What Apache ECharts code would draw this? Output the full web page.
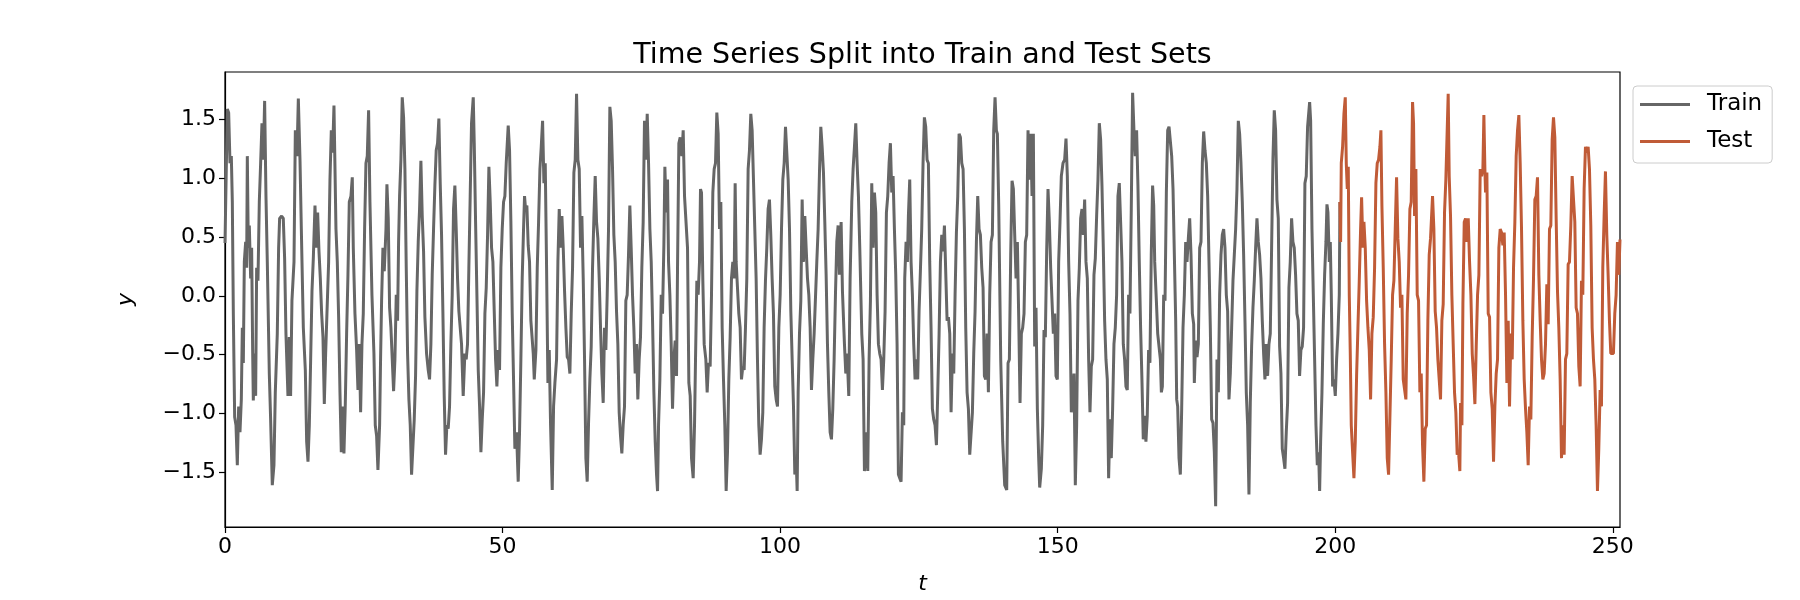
<!DOCTYPE html>
<html>
<head>
<meta charset="utf-8">
<script src="https://cdn.jsdelivr.net/npm/echarts@6/dist/echarts.min.js"></script>
<style>html,body{margin:0;padding:0;background:#fff;}#c{width:1800px;height:600px;}</style>
</head>
<body>
<div id="c"></div>
<script>
// ---- data ----
const trainT = [0.00,0.42,0.66,0.90,1.14,1.32,1.50,1.74,1.98,2.22,2.46,2.70,2.94,3.12,3.30,3.48,3.72,3.90,4.02,4.20,4.38,4.62,4.80,4.98,5.10,5.34,5.52,5.70,5.94,6.18,6.42,6.66,6.90,7.14,7.38,7.62,7.98,8.22,8.52,8.82,9.06,9.42,9.66,9.84,10.20,10.50,10.74,10.98,11.34,11.58,11.82,12.06,12.43,12.67,12.97,13.21,13.51,13.75,14.11,14.47,14.71,14.95,15.19,15.43,15.67,15.91,16.21,16.45,16.69,16.93,17.17,17.41,17.65,17.89,18.13,18.43,18.67,18.91,19.15,19.39,19.63,19.99,20.23,20.47,20.71,20.95,21.19,21.43,21.67,21.91,22.15,22.39,22.69,22.93,23.11,23.41,23.71,23.95,24.19,24.43,24.67,24.91,25.15,25.39,25.63,25.87,26.11,26.47,26.83,27.07,27.31,27.55,
27.85,28.03,28.21,28.45,28.69,29.00,29.17,29.41,29.65,29.89,30.13,30.37,30.61,30.85,31.09,31.27,31.45,31.69,31.93,32.17,32.41,32.65,32.89,33.13,33.37,33.61,33.85,34.09,34.33,34.57,34.81,35.05,35.29,35.53,35.77,36.01,36.31,36.61,36.85,37.09,37.33,37.57,37.81,38.05,38.29,38.53,38.77,39.01,39.25,39.49,39.73,39.97,40.21,40.45,40.69,40.93,41.17,41.41,41.65,41.89,42.13,42.37,42.61,42.91,43.21,43.45,43.69,43.93,44.17,44.41,44.72,44.90,45.14,45.38,45.62,45.86,46.10,46.34,46.58,46.82,47.06,47.30,47.54,47.78,48.02,48.26,48.50,48.74,48.98,49.22,49.46,49.70,49.94,50.18,50.42,50.66,51.02,51.26,51.50,51.74,51.98,52.22,52.52,52.82,53.06,53.30,53.54,53.78,53.96,54.14,54.38,54.62,54.86,55.10,
55.53,55.71,56.01,56.25,56.49,56.73,56.97,57.21,57.45,57.69,57.93,58.17,58.41,58.65,58.95,59.19,59.43,59.73,59.97,60.21,60.45,60.69,60.93,61.17,61.41,61.65,61.89,62.13,62.37,62.61,62.85,63.09,63.33,63.57,63.81,64.05,64.29,64.53,64.77,65.01,65.25,65.49,65.73,65.97,66.21,66.45,66.69,66.93,67.17,67.41,67.65,67.89,68.13,68.37,68.61,68.85,69.09,69.33,69.57,69.81,70.05,70.29,70.53,70.77,71.01,71.25,71.49,71.73,71.97,72.21,72.45,72.69,72.93,73.17,73.41,73.65,73.89,74.13,74.37,74.61,74.85,75.09,75.33,75.57,75.81,76.06,76.30,76.54,76.78,77.02,77.26,77.50,77.74,77.92,78.10,78.34,78.58,78.82,79.06,79.24,79.48,79.72,79.90,80.14,80.38,80.62,80.86,81.10,81.34,81.52,81.76,82.00,82.30,82.54,82.78,
83.32,83.56,83.80,84.04,84.34,84.58,84.76,85.00,85.24,85.48,85.66,85.84,86.08,86.32,86.62,86.86,87.10,87.40,87.64,87.88,88.12,88.36,88.60,88.84,89.08,89.32,89.56,89.80,90.04,90.28,90.52,90.76,91.00,91.24,91.48,91.72,91.90,92.08,92.32,92.56,92.80,93.04,93.28,93.52,93.76,94.00,94.24,94.48,94.72,94.96,95.20,95.44,95.68,95.92,96.16,96.40,96.64,96.88,97.12,97.36,97.60,97.84,98.08,98.32,98.56,98.80,99.04,99.29,99.53,99.77,100.01,100.25,100.49,100.73,100.97,101.21,101.45,101.69,101.93,102.17,102.41,102.65,102.89,103.07,103.25,103.49,103.73,103.97,104.21,104.45,104.69,104.93,105.17,105.41,105.65,105.89,106.13,106.37,106.61,106.85,107.09,107.33,107.57,107.81,108.05,108.29,108.53,108.77,109.01,109.25,109.49,109.73,109.97,110.21,110.45,110.69,
110.99,111.23,111.59,111.83,112.07,112.37,112.61,112.91,113.15,113.39,113.63,113.87,114.11,114.35,114.71,114.95,115.19,115.55,115.79,116.03,116.27,116.51,116.75,116.99,117.23,117.47,117.71,117.95,118.19,118.43,118.67,118.91,119.15,119.39,119.63,119.87,120.11,120.35,120.59,120.83,121.07,121.31,121.55,121.79,122.03,122.27,122.45,122.69,122.93,123.11,123.35,123.59,123.83,124.07,124.31,124.55,124.79,125.03,125.27,125.51,125.75,125.99,126.23,126.47,126.71,126.95,127.19,127.43,127.67,127.91,128.16,128.40,128.64,128.88,129.12,129.36,129.60,129.84,130.08,130.32,130.56,130.80,131.04,131.28,131.52,131.76,132.00,132.24,132.48,132.72,132.96,133.20,133.44,133.68,133.92,134.16,134.40,134.64,134.88,135.12,135.36,135.60,135.84,136.08,136.32,136.56,136.80,137.04,137.28,137.52,137.76,138.00,138.24,138.48,138.72,
138.96,139.14,139.38,139.74,140.10,140.46,140.82,141.06,141.30,141.54,141.78,142.02,142.26,142.50,142.74,142.98,143.22,143.46,143.70,143.94,144.18,144.42,144.66,144.90,145.14,145.38,145.62,145.86,146.10,146.34,146.58,146.76,147.06,147.30,147.54,147.78,148.02,148.26,148.50,148.74,148.98,149.22,149.46,149.70,149.94,150.18,150.42,150.66,150.96,151.26,151.50,151.74,151.98,152.22,152.46,152.70,152.94,153.18,153.42,153.66,153.90,154.14,154.38,154.62,154.86,155.10,155.34,155.58,155.82,156.06,156.30,156.54,156.78,157.02,157.26,157.50,157.74,157.98,158.22,158.46,158.70,158.94,159.18,159.42,159.66,159.90,160.14,160.38,160.62,160.86,161.10,161.34,161.58,161.82,162.06,162.30,162.54,162.78,163.02,163.26,163.50,163.74,163.98,164.22,164.46,164.70,164.94,165.18,165.42,165.66,165.90,166.14,166.38,166.62,166.86,167.10,
167.30,167.48,167.78,168.02,168.26,168.50,168.68,168.86,169.10,169.34,169.58,169.82,170.06,170.30,170.54,170.78,171.02,171.26,171.44,171.62,171.86,172.10,172.34,172.58,172.82,173.06,173.30,173.54,173.78,174.02,174.26,174.50,174.62,174.86,175.10,175.34,175.58,175.82,176.06,176.30,176.54,176.78,177.02,177.26,177.50,177.74,177.98,178.22,178.46,178.70,178.94,179.18,179.42,179.66,179.90,180.14,180.38,180.62,180.86,181.10,181.34,181.58,181.82,182.06,182.30,182.54,182.78,183.02,183.26,183.50,183.74,183.98,184.22,184.46,184.70,184.94,185.18,185.42,185.66,185.90,186.14,186.38,186.62,186.86,187.10,187.34,187.58,187.82,188.06,188.30,188.54,188.78,189.02,189.26,189.50,189.74,189.98,190.22,190.46,190.70,190.94,191.18,191.42,191.66,191.90,192.14,192.38,192.62,192.86,193.10,193.34,193.58,193.82,194.06,194.30,194.54,194.78,195.02,
195.39,195.57,195.81,196.05,196.29,196.53,196.77,197.01,197.19,197.37,197.61,197.85,198.09,198.33,198.51,198.69,198.93,199.11,199.29,199.53,199.77,200.01,200.25,200.49,200.73,200.85];

const trainY = [0.45,1.59,1.56,1.13,1.19,0.80,-0.15,-1.03,-1.10,-1.44,-0.94,-1.16,-0.88,-0.27,-0.57,0.29,0.46,0.24,1.19,0.41,0.60,0.15,0.41,-0.46,-0.89,-0.49,-0.85,0.24,0.13,0.80,1.13,1.47,1.16,1.66,0.85,0.29,-0.66,-1.05,-1.61,-1.44,-0.82,-0.32,0.41,0.66,0.68,0.66,0.32,-0.32,-0.85,-0.35,-0.85,-0.04,0.29,1.41,1.19,1.68,1.16,0.57,-0.27,-0.63,-1.24,-1.41,-1.10,-0.54,0.04,0.32,0.77,0.41,0.71,0.38,0.15,-0.15,-0.35,-0.92,-0.49,-0.49,0.29,0.99,1.41,1.22,1.62,0.57,0.29,-0.18,-0.82,-1.33,-0.94,-1.34,-0.92,-0.32,0.18,0.80,0.85,1.01,0.41,-0.15,-0.46,-0.80,-0.41,-0.99,-0.41,-0.15,0.57,1.13,1.19,1.58,0.80,0.01,-0.49,-1.10,-1.19,-1.48,
-1.10,-0.52,-0.04,0.41,0.21,0.57,0.95,0.66,-0.10,-0.27,-0.54,-0.81,-0.54,0.01,-0.21,0.46,0.85,1.16,1.69,1.52,1.08,0.24,-0.49,-0.88,-1.10,-1.52,-1.52,-1.05,-0.68,0.04,0.46,0.74,1.15,0.68,0.38,-0.18,-0.49,-0.63,-0.71,-0.41,0.18,0.57,0.94,1.24,1.30,1.51,0.96,0.52,-0.13,-0.85,-1.35,-1.10,-1.13,-0.94,-0.41,0.01,0.74,0.94,0.57,0.15,-0.13,-0.27,-0.41,-0.85,-0.49,-0.54,-0.41,0.24,0.85,1.47,1.69,1.30,0.63,0.01,-0.63,-0.94,-1.33,-1.05,-0.82,-0.15,0.07,0.52,1.10,0.80,0.41,0.29,-0.13,-0.54,-0.77,-0.46,-0.63,0.24,0.57,0.80,0.85,1.13,1.45,1.24,0.63,-0.15,-0.71,-1.30,-1.16,-1.58,-1.16,-0.54,0.15,0.57,0.85,0.74,0.77,0.43,0.29,-0.21,
-0.49,-0.71,-0.46,0.24,0.63,1.08,1.27,1.49,0.96,1.13,0.24,-0.74,-0.46,-1.10,-1.65,-0.94,-0.74,-0.54,0.29,0.74,0.41,0.68,0.41,0.04,-0.27,-0.52,-0.54,-0.66,-0.15,0.24,1.05,1.16,1.72,1.16,1.08,0.41,0.68,0.15,-0.54,-1.38,-1.58,-1.08,-0.71,-0.43,0.24,0.66,1.02,0.63,0.49,0.15,-0.27,-0.66,-0.91,-0.27,-0.46,0.01,0.57,1.61,1.49,1.08,0.52,0.29,-0.13,-0.41,-0.99,-1.19,-1.34,-1.10,-0.94,-0.04,0.01,0.35,0.77,0.41,0.01,-0.27,-0.66,-0.41,-0.88,-0.54,-0.35,0.24,0.63,1.49,1.16,1.55,1.13,0.57,0.29,-0.21,-0.82,-1.24,-1.52,-1.66,-1.10,-0.71,0.01,-0.15,0.43,1.10,0.71,0.99,0.29,0.01,-0.41,-0.96,-0.54,-0.38,-0.68,0.24,1.30,1.35,1.19,1.41,0.85,
0.41,-0.74,-0.85,-1.38,-1.55,-1.10,-0.54,0.13,0.01,0.29,0.91,0.88,0.13,-0.41,-0.54,-0.82,-0.57,-0.60,0.01,0.88,1.08,1.13,1.56,1.38,0.57,0.80,-0.27,-0.71,-1.10,-1.66,-1.33,-0.71,-0.35,0.15,0.29,0.15,0.96,0.29,0.07,-0.15,-0.27,-0.71,-0.60,-0.63,-0.27,0.15,1.08,1.24,1.55,1.41,0.99,0.57,0.15,-0.54,-1.10,-1.35,-1.22,-0.99,-0.27,0.13,0.41,0.74,0.82,0.52,0.15,-0.15,-0.77,-0.88,-0.94,-0.27,0.01,0.57,0.99,1.13,1.44,1.44,0.99,0.57,-0.13,-0.54,-0.94,-1.52,-1.38,-1.66,-0.82,-0.32,-0.04,0.82,0.29,0.68,0.41,0.15,0.01,-0.27,-0.80,-0.54,-0.32,-0.32,0.29,0.57,1.05,1.44,1.27,1.05,0.63,0.18,-0.41,-0.82,-1.16,-1.22,-0.96,-0.54,0.01,0.46,0.60,0.18,
0.63,0.04,-0.41,-0.66,-0.49,-0.85,0.15,0.80,1.08,1.27,1.47,1.13,0.85,0.41,-0.32,-0.54,-1.49,-1.16,-1.49,-0.54,-0.04,0.96,0.41,0.88,0.71,0.01,-0.41,-0.49,-0.54,-0.80,-0.54,-0.13,0.71,0.85,1.13,1.30,0.88,1.02,0.57,0.18,-0.41,-1.52,-1.55,-1.58,-0.99,-1.10,0.15,0.46,0.29,0.68,0.99,0.29,0.01,-0.41,-0.71,-0.54,-0.71,-0.13,0.21,0.57,1.13,1.52,1.44,1.16,1.13,0.29,-0.27,-0.96,-1.05,-1.10,-1.27,-0.82,-0.32,0.29,0.52,0.38,0.60,0.60,-0.21,-0.18,-0.32,-0.99,-0.49,-0.66,0.01,0.54,0.85,1.38,1.35,1.13,1.08,0.57,-0.27,-0.82,-0.96,-1.35,-1.35,-0.99,-0.49,-0.13,0.46,0.85,0.57,0.52,0.24,0.07,-0.68,-0.71,-0.32,-0.82,0.01,0.46,0.52,1.41,1.69,
1.41,1.38,0.77,-0.54,-1.24,-1.61,-1.65,-0.57,-0.54,0.35,0.98,0.91,0.52,0.15,0.46,-0.18,-0.91,-0.32,-0.27,-0.15,0.46,0.52,1.41,0.99,1.38,0.85,1.38,-0.43,-0.10,-0.96,-1.38,-1.63,-1.47,-1.10,-0.29,-0.35,0.38,0.91,0.63,0.24,0.24,-0.32,-0.15,-0.68,-0.71,0.29,0.63,1.02,1.13,1.16,1.34,1.02,0.29,-0.15,-0.99,-0.99,-0.66,-1.61,-1.10,-0.04,0.24,0.66,0.74,0.52,0.82,0.29,0.15,-0.54,-0.99,-0.60,-0.54,0.18,0.32,0.68,0.99,1.47,1.33,0.94,0.41,-0.21,-0.54,-0.71,-1.55,-1.05,-1.38,-0.96,-0.41,-0.27,0.01,0.85,0.96,0.63,0.29,-0.41,-0.54,-0.77,-0.80,0.01,-0.15,0.74,1.73,1.41,1.19,1.41,0.94,0.29,-0.27,-0.71,-1.22,-1.02,-1.24,-1.02,-0.46,-0.57,0.35,0.94,
0.77,0.29,-0.04,-0.32,-0.43,-0.54,-0.82,-0.77,0.01,-0.04,0.88,1.41,1.44,1.44,1.19,0.91,0.35,-0.21,-0.88,-0.94,-1.38,-1.52,-0.96,-0.27,0.01,0.46,0.29,0.49,0.66,0.35,-0.15,-0.24,-0.74,-0.38,-0.52,-0.41,0.41,0.46,1.13,1.40,1.24,1.13,0.85,0.29,-0.27,-1.05,-1.08,-1.33,-1.79,-0.54,-0.82,0.01,0.35,0.52,0.57,0.41,0.01,-0.13,-0.88,-0.66,-0.27,0.13,0.35,0.57,0.91,1.49,1.38,1.13,0.80,0.35,-0.21,-0.82,-1.10,-1.69,-0.91,-0.43,-0.10,0.13,0.41,0.66,0.46,0.35,0.15,-0.21,-0.49,-0.71,-0.41,-0.68,-0.41,-0.32,0.41,1.16,1.58,1.41,0.82,0.66,-0.43,-0.66,-1.30,-1.38,-1.47,-1.16,-0.91,0.07,0.29,0.66,0.46,0.41,0.18,-0.15,-0.21,-0.68,-0.46,-0.43,-0.27,0.96,1.02,1.44,
1.65,1.49,0.57,0.01,-0.54,-1.10,-1.44,-1.33,-1.66,-1.24,-0.82,-0.24,0.18,0.46,0.78,0.71,0.29,0.46,0.01,-0.77,-0.71,-0.85,-0.54,-0.32,0.01,0.80];

const testT = [200.85,200.97,201.09,201.33,201.57,201.81,201.99,202.17,202.35,202.53,202.71,202.89,203.13,203.37,203.61,203.85,204.09,204.33,204.57,204.75,204.99,205.17,205.41,205.65,205.89,206.13,206.37,206.61,206.85,207.09,207.33,207.57,207.81,208.05,208.23,208.41,208.65,208.89,209.13,209.37,209.61,209.85,210.09,210.33,210.57,210.81,211.05,211.29,211.53,211.77,212.01,212.25,212.49,212.73,212.97,213.21,213.45,213.69,213.93,214.11,214.29,214.53,214.77,215.01,215.25,215.49,215.73,215.97,216.21,216.45,216.69,216.93,217.17,217.53,217.77,218.01,218.25,218.49,218.73,218.97,219.21,219.45,219.69,219.93,220.17,220.35,220.53,220.77,221.01,221.25,221.49,221.73,221.97,222.21,222.45,
222.58,222.82,223.00,223.24,223.48,223.72,223.96,224.20,224.44,224.68,224.92,225.16,225.40,225.64,225.88,226.12,226.36,226.60,226.78,226.96,227.08,227.32,227.56,227.80,228.04,228.28,228.52,228.76,229.00,229.24,229.48,229.72,229.96,230.20,230.44,230.68,230.92,231.16,231.40,231.64,231.88,232.12,232.36,232.60,232.84,233.08,233.32,233.56,233.80,234.04,234.28,234.52,234.76,235.00,235.24,235.48,235.72,235.96,236.20,236.44,236.68,236.92,237.16,237.40,237.64,237.88,238.12,238.36,238.60,238.84,239.08,239.32,239.56,239.80,240.04,240.28,240.52,240.76,241.00,241.24,241.48,241.72,241.96,242.20,242.44,242.68,242.92,243.16,243.40,243.64,243.88,244.12,244.36,244.60,244.84,245.08,245.32,245.56,245.80,246.04,246.28,246.52,246.76,247.00,247.24,247.48,247.72,247.96,248.20,248.44,248.68,248.92,249.16,249.40,249.64,249.88,250.12,250.36,250.60,250.84,251.08,251.30];

const testY = [0.80,0.46,1.13,1.27,1.55,1.69,1.13,0.91,1.10,0.01,-0.49,-1.10,-1.33,-1.55,-1.24,-0.68,-0.27,0.13,0.57,0.84,0.41,0.63,0.41,-0.04,-0.27,-0.46,-0.88,-0.32,-0.18,0.24,0.96,1.13,1.16,1.27,1.41,0.77,0.24,-0.41,-0.82,-1.38,-1.52,-1.52,-0.54,0.01,0.13,0.57,1.01,0.49,0.29,-0.10,0.01,-0.71,-0.71,-0.88,-0.15,0.18,0.74,0.80,1.65,1.47,0.68,1.08,0.01,-0.04,-0.82,-0.66,-1.27,-1.58,-1.13,-1.10,-0.21,0.35,0.49,0.85,0.57,-0.13,-0.27,-0.54,-0.71,-0.88,-0.21,-0.07,0.71,0.99,1.41,1.72,1.02,0.68,0.01,-0.41,-0.82,-0.99,-1.35,-1.33,-1.49,
-0.91,-1.10,-0.07,0.63,0.66,0.46,0.66,0.29,0.01,-0.49,-0.68,-0.92,-0.43,0.01,0.18,1.08,1.02,1.08,1.54,1.08,0.88,1.05,-0.15,-0.18,-0.82,-0.96,-1.41,-0.94,-0.66,-0.54,0.41,0.57,0.54,0.43,0.54,0.01,-0.74,-0.21,-0.94,-0.32,-0.54,0.24,0.63,1.19,1.41,1.54,1.13,0.57,-0.21,-0.71,-0.96,-1.16,-1.44,-0.94,-1.05,-0.35,0.15,0.82,0.85,1.01,0.18,-0.21,-0.54,-0.71,-0.66,-0.41,0.10,-0.24,0.57,0.60,1.33,1.52,1.35,0.66,0.04,-0.27,-0.71,-1.38,-1.10,-1.35,-0.54,-0.49,0.27,0.29,0.60,1.02,1.02,0.63,-0.10,-0.15,-0.60,-0.77,0.13,0.01,0.91,1.27,1.22,1.27,1.08,0.60,-0.27,-0.54,-0.71,-1.10,-1.66,-1.30,-0.80,-0.94,0.24,0.68,1.06,0.52,0.18,-0.21,-0.49,-0.49,-0.49,-0.15,0.01,0.46,0.18,0.48];

const xTicks = [0, 50, 100, 150, 200, 250];
const yTicks = [-1.5, -1.0, -0.5, 0.0, 0.5, 1.0, 1.5];

// ---- chart ----
const FONT = '"DejaVu Sans", sans-serif';
const trainData = trainT.map((t, i) => [t, trainY[i]]);
const testData = testT.map((t, i) => [t, testY[i]]);
const fmt = v => (v < 0 ? '\u2212' : '') + Math.abs(v).toFixed(1);

const chart = echarts.init(document.getElementById('c'), null, {renderer: 'canvas'});
chart.setOption({
  backgroundColor: '#fff',
  animation: false,
  graphic: [{
    type: 'text', x: 922.5, y: 56,
    style: {text: 'Time Series Split into Train and Test Sets', font: '28.5px ' + FONT,
            fill: '#000', textAlign: 'center', textVerticalAlign: 'middle'}
  }],
  grid: {left: 225, right: 180, top: 72, bottom: 66, show: true,
         borderColor: '#000', borderWidth: 1.2, backgroundColor: 'transparent'},
  legend: {
    data: ['Train', 'Test'], orient: 'vertical', left: 1633, top: 86,
    icon: 'rect', itemWidth: 50, itemHeight: 3, itemGap: 14,
    padding: [7, 10, 10, 7],
    borderColor: '#cccccc', borderWidth: 1, borderRadius: 4, backgroundColor: '#fff',
    textStyle: {fontFamily: FONT, fontSize: 23, color: '#000', padding: [0, 0, 0, 12]}
  },
  xAxis: {
    type: 'value', min: 0, max: 251.3, interval: 50,
    name: 't', nameLocation: 'middle', nameGap: 46,
    nameTextStyle: {fontFamily: FONT, fontSize: 22, fontStyle: 'italic', color: '#000'},
    axisLine: {show: true, onZero: false, lineStyle: {color: '#000', width: 1.2}},
    axisTick: {show: true, inside: false, length: 6, lineStyle: {color: '#000', width: 1.2},
               customValues: xTicks},
    axisLabel: {fontFamily: FONT, fontSize: 22, color: '#000', margin: 9, customValues: xTicks,
                formatter: v => String(v)},
    splitLine: {show: false}
  },
  yAxis: {
    type: 'value', min: -1.966, max: 1.906,
    name: 'y', nameLocation: 'middle', nameGap: 88, nameRotate: 90,
    nameTextStyle: {fontFamily: FONT, fontSize: 22, fontStyle: 'italic', color: '#000'},
    axisLine: {show: true, onZero: false, lineStyle: {color: '#000', width: 1.2}},
    axisTick: {show: true, inside: false, length: 6, lineStyle: {color: '#000', width: 1.2},
               customValues: yTicks},
    axisLabel: {fontFamily: FONT, fontSize: 22, color: '#000', margin: 9, customValues: yTicks,
                formatter: fmt},
    splitLine: {show: false}
  },
  series: [
    {name: 'Train', type: 'line', data: trainData, showSymbol: false, symbol: 'none',
     lineStyle: {color: '#666666', width: 3}, itemStyle: {color: '#666666'}, clip: true},
    {name: 'Test', type: 'line', data: testData, showSymbol: false, symbol: 'none',
     lineStyle: {color: '#c05b37', width: 3}, itemStyle: {color: '#c05b37'}, clip: true}
  ]
});
</script>
</body>
</html>
